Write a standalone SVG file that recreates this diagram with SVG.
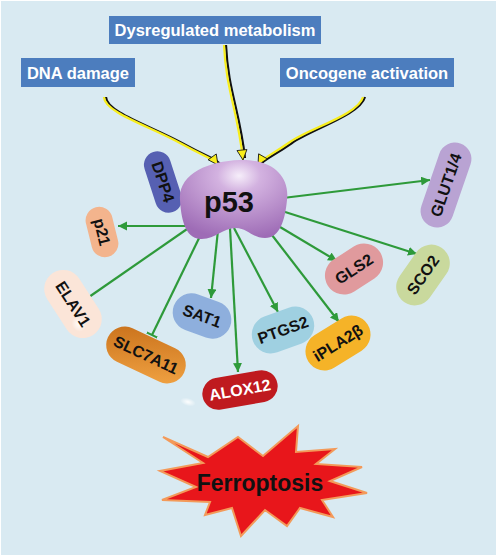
<svg xmlns="http://www.w3.org/2000/svg" width="498" height="557" viewBox="0 0 498 557">
<defs>
<style>
.box{fill:#4c7dbe}
.boxt{font-family:"Liberation Sans",Arial,sans-serif;font-weight:bold;font-size:16.5px;fill:#fff;text-anchor:middle}
.pt{font-family:"Liberation Sans",Arial,sans-serif;font-weight:bold;font-size:16px;fill:#111;text-anchor:middle;dominant-baseline:central}
.g{stroke:#2e9a3a;stroke-width:2.2;fill:none}
.ysh{stroke:#111;stroke-width:2.2;fill:none}
.y{stroke:#f8ee1c;stroke-width:2.2;fill:none}
</style>
<marker id="arr" markerUnits="userSpaceOnUse" markerWidth="10" markerHeight="10" refX="9" refY="4.5" orient="auto">
<path d="M0,0 L9,4.5 L0,9 Z" fill="#2e9a3a"/>
</marker>
<marker id="bar" markerUnits="userSpaceOnUse" markerWidth="4" markerHeight="12" refX="2" refY="6" orient="auto">
<path d="M2,0 L2,12" stroke="#2e9a3a" stroke-width="2.2"/>
</marker>
<marker id="yarr" markerUnits="userSpaceOnUse" markerWidth="14" markerHeight="14" refX="11" refY="6" orient="auto">
<path d="M1,1 L11,6 L1,11 Z" fill="#f8ee1c" stroke="#111" stroke-width="0.8"/>
</marker>
<radialGradient id="p53g" cx="0.55" cy="0.2" r="0.8">
<stop offset="0" stop-color="#f6eefa"/>
<stop offset="0.25" stop-color="#d3b2e0"/>
<stop offset="1" stop-color="#9e6cb6"/>
</radialGradient>
<radialGradient id="hl" cx="0.5" cy="0.5" r="0.5">
<stop offset="0" stop-color="#fff" stop-opacity="0.95"/>
<stop offset="1" stop-color="#fff" stop-opacity="0"/>
</radialGradient>
<linearGradient id="slc" x1="0" y1="0" x2="1" y2="1">
<stop offset="0" stop-color="#c8701a"/>
<stop offset="1" stop-color="#f2a444"/>
</linearGradient>
</defs>

<rect x="0" y="0" width="498" height="557" fill="#ffffff"/>
<rect x="1" y="1" width="495" height="554" fill="#d9eaf2"/>

<g id="dysregulated-metabolism">
<rect class="box" x="109" y="16" width="212" height="28"/>
<text class="boxt" x="215" y="36">Dysregulated metabolism</text>
</g>
<g id="dna-damage">
<rect class="box" x="21" y="58" width="114" height="29"/>
<text class="boxt" x="78" y="79">DNA damage</text>
</g>
<g id="oncogene-activation">
<rect class="box" x="280" y="58" width="174" height="29"/>
<text class="boxt" x="367" y="79">Oncogene activation</text>
</g>

<g id="connectors">
<path class="ysh" d="M106,97 C106,112 151,126 182,143 S215,158 220,164"/>
<path class="ysh" d="M226,45 C228,90 240,112 245,158"/>
<path class="ysh" d="M365,97 C360,115 312,129 292,143 S264,159 260,165"/>
<path class="y" d="M104,97 C104,112 149,126 180,143 S213,158 218,165" marker-end="url(#yarr)"/>
<path class="y" d="M224,45 C226,90 238,112 243,160" marker-end="url(#yarr)"/>
<path class="y" d="M363,97 C358,115 310,128 290,142 S262,158 258,165" marker-end="url(#yarr)"/>

<path class="g" d="M190,226 L118,226" marker-end="url(#arr)"/>
<path class="g" d="M190,227 L89,297" marker-end="url(#bar)"/>
<path class="g" d="M203,230 L152,335" marker-end="url(#bar)"/>
<path class="g" d="M218,230 L211,298" marker-end="url(#arr)"/>
<path class="g" d="M230,228 L238,372" marker-end="url(#arr)"/>
<path class="g" d="M234,228 L278,312" marker-end="url(#arr)"/>
<path class="g" d="M265,226 L339,322" marker-end="url(#arr)"/>
<path class="g" d="M275,224 L337,261" marker-end="url(#arr)"/>
<path class="g" d="M282,211 L417,254" marker-end="url(#arr)"/>
<path class="g" d="M283,198 L430,180" marker-end="url(#arr)"/>
</g>

<g id="dpp4" transform="translate(163,182) rotate(72)">
<rect x="-31.5" y="-13.5" width="63" height="27" rx="13.5" fill="#5660b2"/>
<text class="pt" x="0" y="0">DPP4</text>
</g>

<g id="p53">
<path d="M180,200 C178,174 208,161 240,160 C272,159 290,176 287,200 C285,220 280,238 265,238 C252,238 247,228 236,228 C222,228 215,240 200,239 C185,238 181,218 180,200 Z" fill="url(#p53g)"/>
<text x="229" y="212" font-family="'Liberation Sans',Arial,sans-serif" font-weight="bold" font-size="29" fill="#111" text-anchor="middle">p53</text>
</g>

<g id="p21" transform="translate(102,232) rotate(76)">
<rect x="-25.5" y="-13.5" width="51" height="27" rx="13.5" fill="#f3b48d"/>
<text class="pt" x="0" y="0">p21</text>
</g>

<g id="elav1" transform="translate(73,304) rotate(57)">
<rect x="-37" y="-19" width="74" height="38" rx="19" fill="#fbe5d8"/>
<ellipse cx="20" cy="6" rx="8" ry="7" fill="url(#hl)"/>
<text class="pt" x="0" y="0">ELAV1</text>
</g>

<g id="slc7a11" transform="translate(146,355) rotate(25)">
<rect x="-42" y="-18.5" width="84" height="37" rx="18.5" fill="url(#slc)"/>
<text class="pt" x="0" y="0">SLC7A11</text>
</g>

<g id="sat1" transform="translate(202,316) rotate(20)">
<rect x="-30" y="-19" width="60" height="38" rx="19" fill="#8eafdd"/>
<text class="pt" x="0" y="0">SAT1</text>
</g>

<g id="alox12" transform="translate(240,390) rotate(-10)">
<rect x="-38" y="-16" width="76" height="32" rx="16" fill="#bf1a1f"/>
<text class="pt" x="0" y="0" style="fill:#fff">ALOX12</text>
</g>
<ellipse cx="188" cy="402" rx="8" ry="4" fill="url(#hl)" transform="rotate(15 188 402)"/>

<g id="ptgs2" transform="translate(283,330) rotate(-20)">
<rect x="-32" y="-19" width="64" height="38" rx="19" fill="#9fd0e1"/>
<text class="pt" x="0" y="0">PTGS2</text>
</g>

<g id="ipla2b" transform="translate(338,343) rotate(-32)">
<rect x="-35" y="-19" width="70" height="38" rx="19" fill="#f5b328"/>
<text class="pt" x="0" y="0">iPLA2β</text>
</g>

<g id="gls2" transform="translate(354,269) rotate(-33)">
<rect x="-31" y="-19" width="62" height="38" rx="19" fill="#e09a9d"/>
<text class="pt" x="0" y="0">GLS2</text>
</g>

<g id="sco2" transform="translate(423,275) rotate(-55)">
<rect x="-33" y="-18.5" width="66" height="37" rx="18.5" fill="#c9d99d"/>
<text class="pt" x="0" y="0">SCO2</text>
</g>

<g id="glut14" transform="translate(446,185) rotate(-71)">
<rect x="-44" y="-16.5" width="88" height="33" rx="16.5" fill="#b9a3d3"/>
<text class="pt" x="0" y="0">GLUT1/4</text>
</g>

<g id="ferroptosis">
<path d="M163,437 L208,457 L238,437 L263,456 L298,426 L296,452 L335,449 L316,464 L362,467 L330,481 L367,493 L322,500 L333,517 L300,508 L287,526 L265,510 L241,536 L232,508 L205,515 L210,502 L162,500 L196,487 L160,471 L203,463 Z" fill="#e8161b" stroke="#f39a5a" stroke-width="2" stroke-linejoin="miter"/>
<text x="260" y="491" font-family="'Liberation Sans',Arial,sans-serif" font-weight="bold" font-size="23" fill="#111" text-anchor="middle">Ferroptosis</text>
</g>
</svg>
